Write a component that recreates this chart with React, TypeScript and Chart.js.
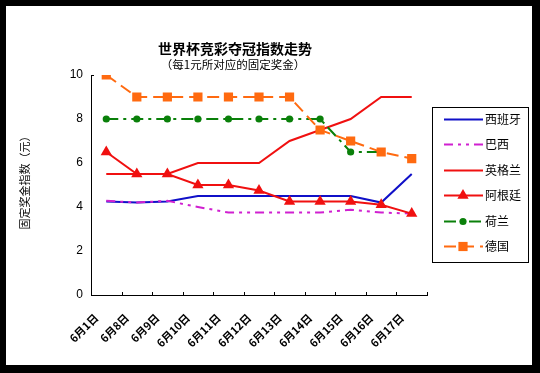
import React, { useEffect, useRef } from 'react';
import { Chart, registerables } from 'chart.js';

Chart.register(...registerables);

const categories = ['6月1日', '6月8日', '6月9日', '6月10日', '6月11日', '6月12日', '6月13日', '6月14日', '6月15日', '6月16日', '6月17日'];
const spain = [4.25, 4.2, 4.25, 4.5, 4.5, 4.5, 4.5, 4.5, 4.5, 4.2, 5.5];
const brazil = [4.28, 4.2, 4.28, 4.0, 3.75, 3.75, 3.75, 3.75, 3.88, 3.75, 3.7];
const england = [5.5, 5.5, 5.5, 6, 6, 6, 7, 7.5, 8, 9, 9];
const argentina = [6.5, 5.5, 5.5, 5.0, 5.0, 4.75, 4.25, 4.25, 4.25, 4.1, 3.7];
const netherlands = [8, 8, 8, 8, 8, 8, 8, 8, 6.5, 6.5, null];
const germany = [10, 9, 9, 9, 9, 9, 9, 7.5, 7, 6.5, 6.2];
const seriesNames = ['西班牙', '巴西', '英格兰', '阿根廷', '荷兰', '德国'];
const yMin = 0;
const yMax = 10;
const yStep = 2;
const titleText = '世界杯竞彩夺冠指数走势';
const subtitleText = '（每1元所对应的固定奖金）';
const yTitleText = '固定奖金指数（元）';

const CJK = '"Noto Sans CJK SC", sans-serif';

function drawMarker(ctx: CanvasRenderingContext2D, style: string, x: number, y: number, r: number, color: string) {
  ctx.save();
  ctx.fillStyle = color;
  ctx.beginPath();
  if (style === 'triangle') {
    ctx.moveTo(x, y - r);
    ctx.lineTo(x + r * 0.866, y + r * 0.5);
    ctx.lineTo(x - r * 0.866, y + r * 0.5);
    ctx.closePath();
  } else if (style === 'rect') {
    const s = r * Math.SQRT1_2;
    ctx.rect(x - s, y - s, 2 * s, 2 * s);
  } else if (style === 'circle') {
    ctx.arc(x, y, r, 0, Math.PI * 2);
  }
  ctx.fill();
  ctx.restore();
}

const decorPlugin = {
  id: 'decor',
  beforeDraw(chart: any) {
    const ctx = chart.ctx as CanvasRenderingContext2D;
    ctx.save();
    ctx.fillStyle = '#000';
    ctx.fillRect(0, 0, chart.width, chart.height);
    ctx.fillStyle = '#fff';
    ctx.fillRect(6, 6, 526, 359);
    ctx.restore();
  },
  afterDraw(chart: any) {
    const ctx = chart.ctx as CanvasRenderingContext2D;
    ctx.save();
    // titles
    ctx.fillStyle = '#000';
    ctx.textAlign = 'center';
    ctx.textBaseline = 'middle';
    ctx.font = 'bold 14px ' + CJK;
    ctx.fillText(titleText, 235, 49);
    ctx.font = '11.5px ' + CJK;
    ctx.fillText(subtitleText, 233, 65);
    // y title
    ctx.save();
    ctx.translate(25, 180);
    ctx.rotate(-Math.PI / 2);
    ctx.font = '11px ' + CJK;
    ctx.fillText(yTitleText, 0, 0);
    ctx.restore();

    // inward ticks on x axis at category boundaries
    const xs = chart.scales.x;
    const ys = chart.scales.y;
    const bottom = ys.getPixelForValue(yMin);
    ctx.strokeStyle = '#000';
    ctx.lineWidth = 1;
    ctx.beginPath();
    for (let i = 0; i < categories.length; i++) {
      const a = xs.getPixelForValue(i);
      const b = i + 1 < categories.length ? xs.getPixelForValue(i + 1) : a + (a - xs.getPixelForValue(i - 1));
      const bx = Math.round((a + b) / 2) + 0.5;
      ctx.moveTo(bx, bottom);
      ctx.lineTo(bx, bottom - 3);
    }
    const topY = Math.round(ys.getPixelForValue(yMax)) + 0.5;
    ctx.moveTo(xs.left, topY);
    ctx.lineTo(xs.left + 3, topY);
    ctx.stroke();

    // legend
    const lx = 432, ly = 107, lw = 96, lh = 155;
    ctx.strokeStyle = '#000';
    ctx.lineWidth = 1;
    ctx.strokeRect(lx + 0.5, ly + 0.5, lw, lh);
    chart.data.datasets.forEach((ds: any, i: number) => {
      const y = Math.round(119 + i * 25.4) + 0.5;
      ctx.beginPath();
      ctx.setLineDash(ds.borderDash || []);
      ctx.strokeStyle = ds.borderColor;
      ctx.lineWidth = 2;
      ctx.moveTo(444, y);
      ctx.lineTo(483, y);
      ctx.stroke();
      ctx.setLineDash([]);
      if (ds.pointRadius > 0) drawMarker(ctx, ds.pointStyle, 463, y, ds.pointRadius, ds.pointBackgroundColor);
      ctx.fillStyle = '#000';
      ctx.textAlign = 'left';
      ctx.textBaseline = 'middle';
      ctx.font = '12px ' + CJK;
      ctx.fillText(ds.label, 485, y);
    });
    ctx.restore();
  },
};

export default function App() {
  const ref = useRef<HTMLCanvasElement | null>(null);
  useEffect(() => {
    if (!ref.current) return;
    const mk = (i: number, data: (number | null)[], color: string, dash: number[], style: string, r: number) => ({
      label: seriesNames[i],
      data,
      borderColor: color,
      backgroundColor: color,
      pointBackgroundColor: color,
      pointBorderColor: color,
      borderWidth: 2,
      borderDash: dash,
      pointStyle: style,
      pointRadius: r,
      pointBorderWidth: 0,
      tension: 0,
      spanGaps: false,
      order: 6 - i,
    });
    const chart = new Chart(ref.current, {
      type: 'line',
      data: {
        labels: categories,
        datasets: [
          mk(0, spain, '#1010C8', [], 'circle', 0),
          mk(1, brazil, '#D020D0', [9, 5, 3, 5, 3, 5], 'circle', 0),
          mk(2, england, '#F01010', [], 'circle', 0),
          mk(3, argentina, '#F01010', [], 'triangle', 6.5),
          mk(4, netherlands, '#0A800A', [12, 5, 3, 5], 'circle', 3.6),
          mk(5, germany, '#FF6A10', [12, 6], 'rect', 6.5),
        ] as any,
      },
      options: {
        responsive: false,
        animation: false,
        layout: { padding: { top: 75, right: 113, bottom: 0, left: 0 } },
        plugins: {
          legend: { display: false },
          title: { display: false },
          tooltip: { enabled: false },
        },
        scales: {
          x: {
            offset: true,
            grid: { display: false, drawTicks: false },
            border: { display: true, color: '#000', width: 1 },
            ticks: {
              color: '#000',
              font: { family: CJK, size: 11, weight: 'bold' },
              minRotation: 45,
              maxRotation: 45,
              autoSkip: false,
              padding: 16,
              labelOffset: -10,
            },
            afterFit: (s: any) => { s.height = 78; },
          },
          y: {
            min: yMin,
            max: yMax,
            grid: { display: false, drawTicks: false },
            border: { display: true, color: '#000', width: 1 },
            ticks: {
              stepSize: yStep,
              color: '#000',
              font: { family: '"Liberation Sans", sans-serif', size: 12 },
              padding: 8,
            },
            afterFit: (s: any) => { s.width = 91; },
          },
        },
      },
      plugins: [decorPlugin],
    });
    return () => chart.destroy();
  }, []);
  return (
    <div style={{ position: 'fixed', left: 0, top: 0, width: 540, height: 373 }}>
      <canvas ref={ref} width={540} height={373} style={{ display: 'block', width: 540, height: 373 }} />
    </div>
  );
}
